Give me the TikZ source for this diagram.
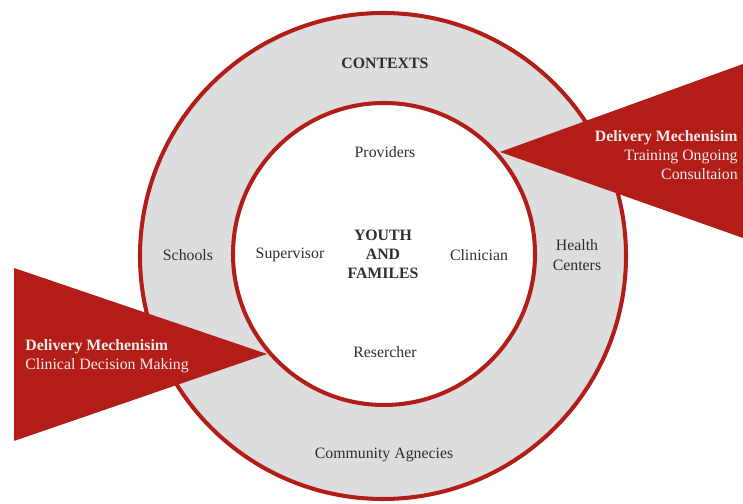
\documentclass[tikz,border=0pt]{standalone}
\usepackage{fontspec}
\setmainfont{Liberation Serif}
\definecolor{ringred}{HTML}{B31D18}
\definecolor{ringgray}{HTML}{DCDDDF}
\definecolor{txtgray}{HTML}{2E2E2E}
\definecolor{pinkwhite}{HTML}{F8ECEA}

\begin{document}
\begin{tikzpicture}[
    txt/.style={text=txtgray, font=\fontsize{9}{10.8}\selectfont, inner sep=0pt, align=center},
    wedgetxt/.style={text=pinkwhite, font=\fontsize{9}{10.6}\selectfont, inner sep=0pt}
  ]

    \useasboundingbox (0,0) rectangle (14.86,10.08);

    % 画两个圆形
    \draw[ringred, line width=2.3pt, fill=ringgray] (7.66,4.96) circle (4.86);
    \draw[ringred, line width=2.3pt, fill=white] (7.68,5.00) circle (3.02);

    % 画两个三角形
    \fill[ringred] (0.28,4.72) -- (5.34,3.00) -- (0.28,1.26) -- cycle;
    \fill[ringred] (14.86,8.80) -- (10.00,7.04) -- (14.86,5.32) -- cycle;

    % 插入文字
    \node[txt, font=\fontsize{9}{10.8}\selectfont\bfseries] (contexts) at (7.70,8.82) {CONTEXTS};
    \node[txt] (providers) at (7.70,7.04) {Providers};
    \node[txt] (schools) at (3.76,4.98) {Schools};
    \node[txt] (supervisor) at (5.80,4.98) {Supervisor};
    \node[txt, font=\fontsize{9}{10.8}\selectfont\bfseries] (youth) at (7.66,5.00) {YOUTH\\AND\\FAMILES};
    \node[txt] (clinician) at (9.58,4.98) {Clinician};
    \node[txt, font=\fontsize{9}{11.3}\selectfont] (health) at (11.54,4.98) {Health\\Centers};
    \node[txt] (resercher) at (7.70,3.04) {Resercher};
    \node[txt] (community) at (7.68,0.98) {Community Agnecies};

    \node[wedgetxt, anchor=west, align=left] (decision) at (0.50,2.96)
      {\textbf{Delivery Mechenisim}\\Clinical Decision Making};
    \node[wedgetxt, anchor=east, align=right] (training) at (14.76,6.98)
      {\textbf{Delivery Mechenisim}\\Training Ongoing\\Consultaion};

  \end{tikzpicture}
\end{document}
